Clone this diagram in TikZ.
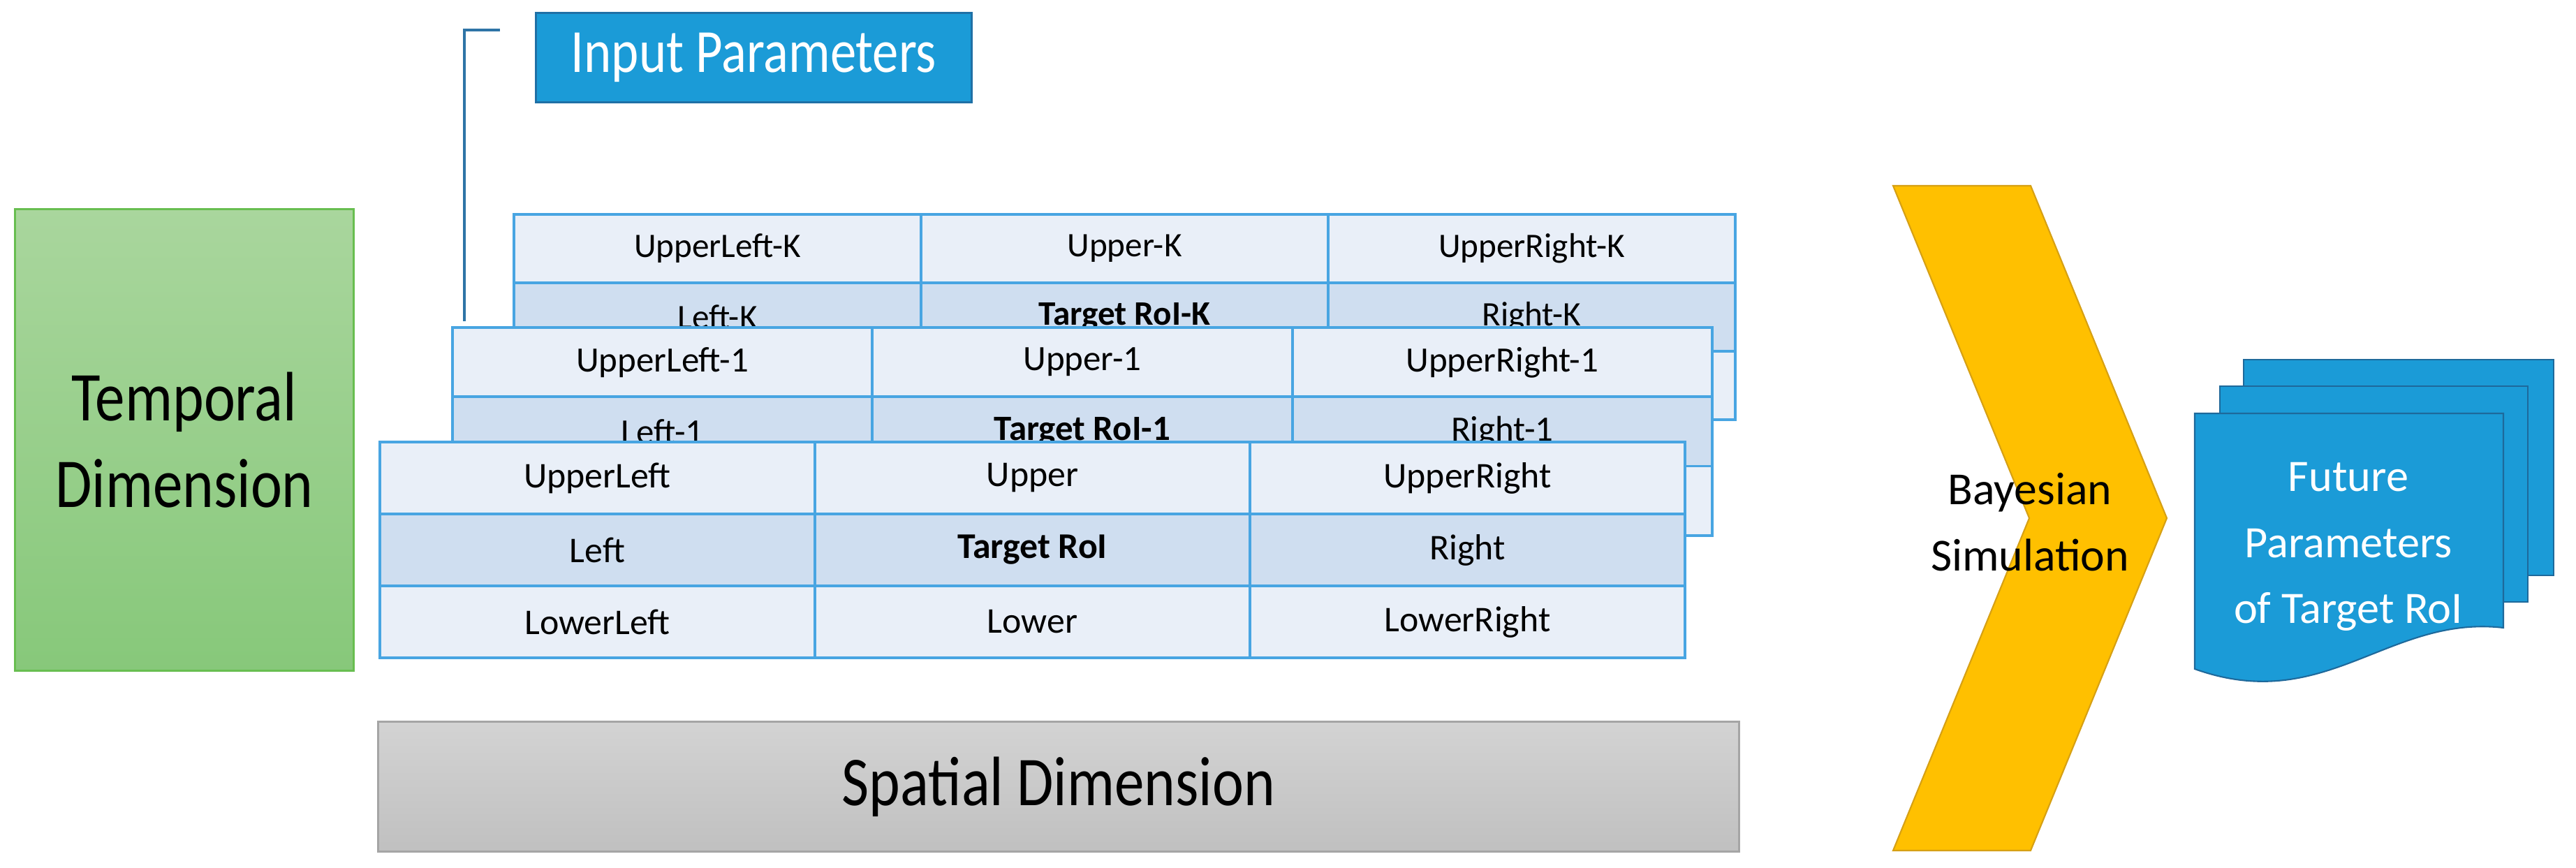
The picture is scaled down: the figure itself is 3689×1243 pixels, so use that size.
\documentclass[tikz,border=0pt]{standalone}
\usepackage{fontspec}
\setmainfont{Carlito}
\newfontfamily\tallfont{Carlito}[FakeStretch=0.85]
\usetikzlibrary{positioning,calc}
\definecolor{cellpale}{RGB}{233,239,248}
\definecolor{cellmid}{RGB}{207,222,240}
\definecolor{cellline}{RGB}{72,165,226}
\definecolor{ipblue}{RGB}{27,155,215}
\definecolor{ipedge}{RGB}{31,112,166}
\definecolor{brkline}{RGB}{46,116,166}
\definecolor{tgtop}{RGB}{169,214,157}
\definecolor{tgbot}{RGB}{135,200,122}
\definecolor{tgedge}{RGB}{104,190,80}
\definecolor{sgtop}{RGB}{211,211,211}
\definecolor{sgbot}{RGB}{192,192,192}
\definecolor{sgedge}{RGB}{165,165,165}
\definecolor{chevfill}{RGB}{255,192,0}
\definecolor{chevedge}{RGB}{214,160,20}
\definecolor{docedge}{RGB}{30,105,155}

\tikzset{
  cell/.style={draw=cellline, line width=2.2pt, inner sep=0pt, anchor=center},
  kcell/.style={cell, minimum width=11.66cm, minimum height=1.96cm, font=\fontsize{28}{34}\selectfont},
  acell/.style={cell, minimum width=12.03cm, minimum height=1.99cm, font=\fontsize{29}{35}\selectfont},
  ccell/.style={cell, minimum width=12.46cm, minimum height=2.06cm, font=\fontsize{29.5}{35}\selectfont},
  bigbox/.style={inner sep=0pt, align=center, font=\tallfont\fontsize{57}{70.5}\selectfont},
  docpage/.style={fill=ipblue, draw=docedge, line width=1.2pt},
  bracket/.style={draw=brkline, line width=1.8pt}
}

\begin{document}
\begin{tikzpicture}[x=0.02cm, y=-0.02cm]
  \useasboundingbox (0,0) rectangle (3689,1243);

  % dimension boxes
  \node[bigbox, top color=tgtop, bottom color=tgbot, draw=tgedge, line width=1.7pt,
        minimum width=9.72cm, minimum height=13.24cm] (temporal) at (264,630) {Temporal\\Dimension};
  \node[bigbox, top color=sgtop, bottom color=sgbot, draw=sgedge, line width=1.7pt,
        minimum width=39cm, minimum height=3.74cm] (spatial) at (1516,1126.5) {Spatial Dimension};

  % input label and its bracket
  \node[fill=ipblue, draw=ipedge, line width=1.7pt, text=white, inner sep=0pt,
        minimum width=12.5cm, minimum height=2.58cm, font=\tallfont\fontsize{50}{58}\selectfont] (ip) at (1079.5,82.5) {Input Parameters};
  \coordinate (brtop) at (716,43);
  \coordinate (brbot) at (665,460);
  \draw[bracket] (brtop) -| (brbot);

  % time step K (back)
  \node[kcell, fill=cellpale] (k11) at (1027.5,356) {UpperLeft-K};
  \node[kcell, fill=cellpale] (k12) at (1610.5,356) {Upper-K};
  \node[kcell, fill=cellpale] (k13) at (2193.5,356) {UpperRight-K};
  \node[kcell, fill=cellmid] (k21) at (1027.5,454) {Left-K};
  \node[kcell, fill=cellmid] (k22) at (1610.5,454) {\textbf{Target RoI-K}};
  \node[kcell, fill=cellmid] (k23) at (2193.5,454) {Right-K};
  \node[kcell, fill=cellpale] (k31) at (1027.5,552) {};
  \node[kcell, fill=cellpale] (k32) at (1610.5,552) {};
  \node[kcell, fill=cellpale] (k33) at (2193.5,552) {};

  % time step 1
  \node[acell, fill=cellpale] (a11) at (948.7,518.7) {UpperLeft-1};
  \node[acell, fill=cellpale] (a12) at (1550,518.7) {Upper-1};
  \node[acell, fill=cellpale] (a13) at (2151.3,518.7) {UpperRight-1};
  \node[acell, fill=cellmid] (a21) at (948.7,618) {Left-1};
  \node[acell, fill=cellmid] (a22) at (1550,618) {\textbf{Target RoI-1}};
  \node[acell, fill=cellmid] (a23) at (2151.3,618) {Right-1};
  \node[acell, fill=cellpale] (a31) at (948.7,717.3) {};
  \node[acell, fill=cellpale] (a32) at (1550,717.3) {};
  \node[acell, fill=cellpale] (a33) at (2151.3,717.3) {};

  % current time step
  \node[ccell, fill=cellpale] (c11) at (855.5,684.5) {UpperLeft};
  \node[ccell, fill=cellpale] (c12) at (1478.5,684.5) {Upper};
  \node[ccell, fill=cellpale] (c13) at (2101.5,684.5) {UpperRight};
  \node[ccell, fill=cellmid] (c21) at (855.5,787.5) {Left};
  \node[ccell, fill=cellmid] (c22) at (1478.5,787.5) {\textbf{Target RoI}};
  \node[ccell, fill=cellmid] (c23) at (2101.5,787.5) {Right};
  \node[ccell, fill=cellpale] (c31) at (855.5,890.5) {LowerLeft};
  \node[ccell, fill=cellpale] (c32) at (1478.5,890.5) {Lower};
  \node[ccell, fill=cellpale] (c33) at (2101.5,890.5) {LowerRight};

  % simulation chevron
  \draw[fill=chevfill, draw=chevedge, line width=1.2pt]
    (2711,266) -- (2908,266) -- (3103,742) -- (2908,1218) -- (2711,1218) -- (2906,742) -- cycle;
  \node[align=center, font=\fontsize{37.4}{54}\selectfont] (bayes) at (2907,748) {Bayesian\\Simulation};

  % output documents
  \draw[docpage] (3213,515) rectangle (3657,824);
  \draw[docpage] (3179,553) rectangle (3620,862);
  \draw[docpage] (3143,592) -- (3585,592) -- (3585,899)
    .. controls (3420,880) and (3330,1025) .. (3143,958) -- cycle;
  \node[align=center, text=white, font=\fontsize{36.6}{54}\selectfont] (future) at (3363,783) {Future\\Parameters\\of Target RoI};
\end{tikzpicture}
\end{document}
